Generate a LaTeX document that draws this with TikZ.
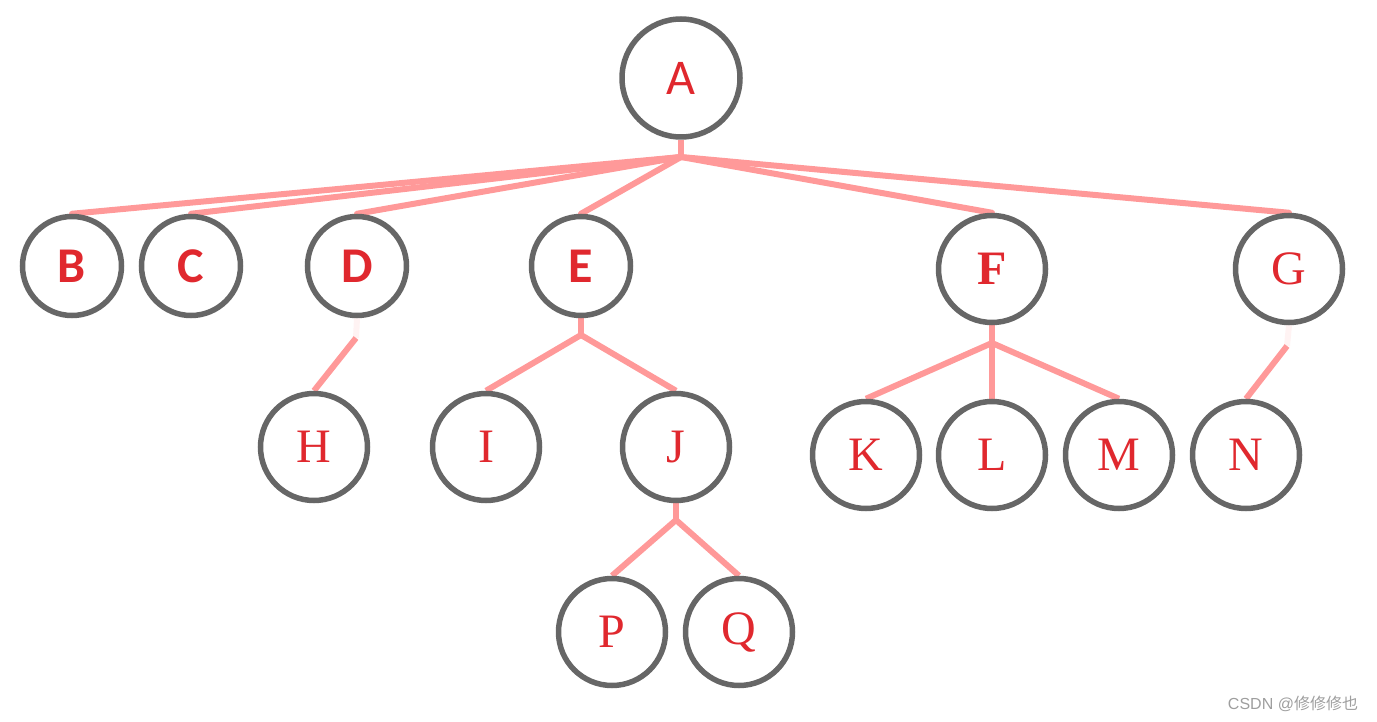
\documentclass[tikz,border=0pt]{standalone}
\usepackage{fontspec}
\setmainfont{Liberation Serif}
\newfontfamily\labelsans{Carlito}
\newfontfamily\wmlatin{Liberation Sans}
\newfontfamily\cjkwm{Noto Sans CJK SC}
\usetikzlibrary{backgrounds}

\definecolor{ringgray}{HTML}{666666}
\definecolor{letterred}{HTML}{E0282E}
\definecolor{edgepink}{HTML}{FF9999}

\begin{document}
\begin{tikzpicture}[
    x=1pt, y=-1pt,
    vertex/.style={
        circle,
        draw=ringgray,
        fill=white,
        line width=5.5pt,
        text=letterred,
        inner sep=0pt
    },
    big/.style={vertex, minimum size=118pt},
    small/.style={vertex, minimum size=99pt},
    mid/.style={vertex, minimum size=107pt},
    sanslabel/.style={font=\labelsans\fontsize{50}{54}\selectfont},
    sansbold/.style={font=\labelsans\bfseries\fontsize{50}{54}\selectfont},
    seriflabel/.style={font=\fontsize{48}{52}\selectfont},
    serifbold/.style={font=\bfseries\fontsize{48}{52}\selectfont},
    edge/.style={draw=edgepink, line width=6pt},
    faint/.style={draw=edgepink!12, line width=6pt}
]
\useasboundingbox (0,0) rectangle (1377,722);

% first row
\node[big, sanslabel] (A) at (681,78) {A};

% second row
\node[small, sansbold] (B) at (72,266) {B};
\node[small, sansbold] (C) at (191,266) {C};
\node[small, sansbold] (D) at (357,266) {D};
\node[small, sansbold] (E) at (581,266) {E};
\node[mid, serifbold] (F) at (992,269) {F};
\node[mid, seriflabel] (G) at (1289,269) {G};

% third row
\node[mid, seriflabel] (H) at (314,447) {H};
\node[mid, seriflabel] (I) at (486,447) {I};
\node[mid, seriflabel] (J) at (676,447) {J};
\node[mid, seriflabel] (K) at (866,455) {K};
\node[mid, seriflabel] (L) at (992,455) {L};
\node[mid, seriflabel] (M) at (1119,455) {M};
\node[mid, seriflabel] (N) at (1246,455) {N};

% fourth row
\node[mid, seriflabel] (P) at (612,632) {P};
\node[mid, seriflabel] (Q) at (739,632) {Q};

% branch points
\coordinate (jA) at (681,157);
\coordinate (jD) at (356,338);
\coordinate (jE) at (581,335);
\coordinate (jF) at (992,343);
\coordinate (jG) at (1287,346);
\coordinate (jJ) at (676,520);

\begin{scope}[on background layer]
\draw[edge] (A.south) -- (jA);
\foreach \child in {B,C,D,E,F,G}
    \draw[edge, line cap=round] (jA) -- (\child.north);

\draw[faint] (D.south) -- (jD);
\draw[edge] (jD) -- (H.north);

\draw[edge] (E.south) -- (jE);
\foreach \child in {I,J}
    \draw[edge] (jE) -- (\child.north);

\draw[edge] (J.south) -- (jJ);
\foreach \child in {P,Q}
    \draw[edge] (jJ) -- (\child.north);

\draw[edge] (F.south) -- (jF);
\foreach \child in {K,L,M}
    \draw[edge] (jF) -- (\child.north);

\draw[faint] (G.south) -- (jG);
\draw[edge] (jG) -- (N.north);
\end{scope}

% watermark
\node[text=black!38, font=\wmlatin\fontsize{16}{18}\selectfont] (mark) at (1293,704) {CSDN @{\cjkwm 修修修也}};

\end{tikzpicture}
\end{document}
